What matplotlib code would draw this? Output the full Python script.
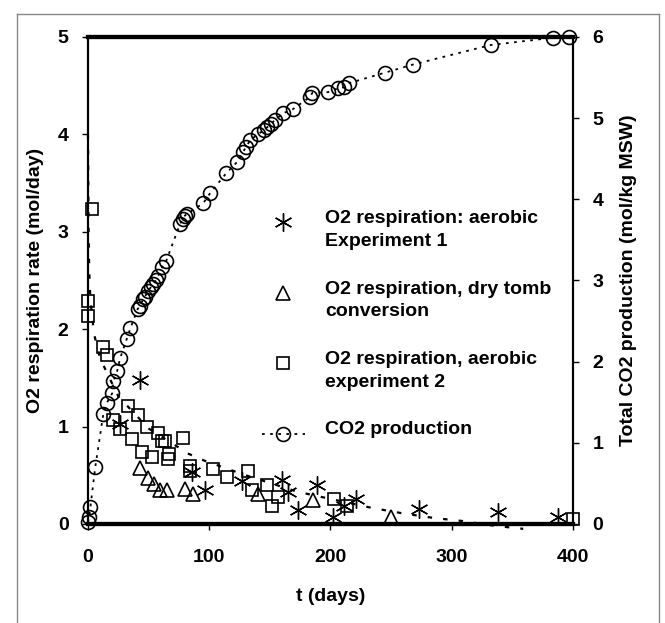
import matplotlib
matplotlib.use('Agg')
import matplotlib.pyplot as plt
from matplotlib.lines import Line2D

plt.rcParams['font.family'] = ['Liberation Sans', 'DejaVu Sans']
plt.rcParams['font.size'] = 14
plt.rcParams['font.weight'] = 'bold'

# O2 respiration, aerobic experiment 1 (asterisks, left axis)
exp1_t = [26.5, 43, 86, 96.7, 127, 160, 165, 173.5, 189, 202, 211, 221, 273, 338, 388]
exp1_y = [1.03, 1.48, 0.53, 0.35, 0.44, 0.45, 0.33, 0.14, 0.40, 0.07, 0.18, 0.26, 0.155, 0.12, 0.07]

# O2 respiration, dry tomb conversion (triangles, left axis)
tomb_t = [43, 49.6, 54.5, 59.5, 65, 80, 87, 140, 186, 250]
tomb_y = [0.57, 0.47, 0.41, 0.35, 0.35, 0.36, 0.31, 0.31, 0.25, 0.07]

# O2 respiration, aerobic experiment 2 (squares, left axis)
exp2_t = [0, 0, 3, 12.4, 15.7, 20.7, 26.4, 33, 36, 41, 44.6, 48.8, 53, 58, 61, 63.6,
          66, 66.5, 78.5, 84, 84.5, 103, 115, 132, 135, 148, 152, 157, 202.5, 214, 400]
exp2_y = [2.29, 2.13, 3.23, 1.82, 1.73, 1.07, 0.97, 1.21, 0.87, 1.12, 0.74, 1.0, 0.69, 0.93, 0.85, 0.85,
          0.67, 0.72, 0.88, 0.54, 0.59, 0.56, 0.48, 0.54, 0.35, 0.40, 0.18, 0.28, 0.26, 0.18, 0.05]

# trend line through the O2 rates (left axis)
trend_t = [0, 0.5, 1, 2, 5, 10, 25, 50, 83, 96, 130, 173, 234, 259, 286, 309, 336, 359]
trend_y = [4.0, 3.0, 2.6, 2.3, 1.95, 1.7, 1.31, 0.98, 0.72, 0.65, 0.5, 0.33, 0.165, 0.11,
           0.06, 0.03, -0.02, -0.05]

# total CO2 production (circles, right axis)
co2_t = [0, 1, 2, 6, 12.6, 15.5, 20, 21, 24, 26.5, 32, 35, 41, 43, 45.5, 47, 49.6, 52, 54, 56,
         58, 61, 64.5, 76, 78.5, 80, 81.6, 95, 101, 114, 123, 128, 130, 134, 140, 145, 148, 151,
         154.5, 161, 169, 183, 185, 198, 206.6, 211, 215, 245, 268, 332, 383.5, 397]
co2_y = [0.02, 0.09, 0.21, 0.70, 1.35, 1.49, 1.61, 1.76, 1.88, 2.04, 2.28, 2.41, 2.65, 2.68, 2.77,
         2.80, 2.87, 2.92, 2.96, 3.0, 3.06, 3.16, 3.24, 3.70, 3.76, 3.80, 3.82, 3.95, 4.08, 4.32,
         4.46, 4.58, 4.64, 4.73, 4.80, 4.85, 4.89, 4.93, 4.98, 5.06, 5.11, 5.26, 5.31, 5.32, 5.37,
         5.38, 5.43, 5.56, 5.66, 5.90, 5.99, 6.0]

x_ticks = [0, 100, 200, 300, 400]
left_ticks = [0, 1, 2, 3, 4, 5]
right_ticks = [0, 1, 2, 3, 4, 5, 6]

fig = plt.figure(figsize=(6.65, 6.23), dpi=100)
ax = fig.add_axes([0.1323, 0.159, 0.7293, 0.7817])
ax2 = ax.twinx()

open_kw = dict(linestyle='none', markerfacecolor='none', markeredgecolor='black', markeredgewidth=1.2)
star_kw = dict(marker=(6, 2, 0), markersize=13, color='black', linestyle='none', markeredgewidth=1.0)

ax.plot(trend_t, trend_y, color='black', linestyle=(0, (2, 5)), lw=1.6, clip_on=False)
ax.plot(exp1_t, exp1_y, **star_kw)
ax.plot(tomb_t, tomb_y, marker='^', markersize=10, **open_kw)
ax.plot(exp2_t, exp2_y, marker='s', markersize=9, clip_on=False, **open_kw)
ax2.plot(co2_t, co2_y, color='black', linestyle=(0, (1.5, 3)), lw=1.3, marker='o', markersize=10,
         markerfacecolor='none', markeredgecolor='black', markeredgewidth=1.2, clip_on=False)

ax.set_xlim(0, 400)
ax.set_ylim(0, 5)
ax2.set_ylim(0, 6)
ax.set_xticks(x_ticks)
ax.set_yticks(left_ticks)
ax2.set_yticks(right_ticks)

for a in (ax, ax2):
    a.spines['top'].set_linewidth(3)
    a.spines['bottom'].set_linewidth(3)
    a.spines['left'].set_linewidth(1.5)
    a.spines['right'].set_linewidth(1.5)
    a.tick_params(length=4, width=1, labelsize=14, pad=10)
ax.tick_params(axis='x', pad=14)

ax.set_xlabel('t (days)', fontsize=14, fontweight='bold', labelpad=16)
ax.set_ylabel('O2 respiration rate (mol/day)', fontsize=14, fontweight='bold', labelpad=10)
ax2.set_ylabel('Total CO2 production (mol/kg MSW)', fontsize=14, fontweight='bold', labelpad=12)

# legend drawn by hand so the key sits on the first text line
legend_rows = [
    ('O2 respiration: aerobic\nExperiment 1', star_kw),
    ('O2 respiration, dry tomb\nconversion', dict(marker='^', markersize=10, **open_kw)),
    ('O2 respiration, aerobic\nexperiment 2', dict(marker='s', markersize=9, **open_kw)),
    ('CO2 production', dict(marker='o', markersize=10, color='black', linestyle=(0, (1.5, 3)),
                            lw=1.3, markerfacecolor='none', markeredgecolor='black',
                            markeredgewidth=1.2)),
]
W, H = 665, 623
for i, (label, style) in enumerate(legend_rows):
    ypx = 222 + i * 70.5
    yf = 1 - ypx / H
    if style.get('linestyle') == 'none':
        xs = [283 / W]
        ys = [yf]
    else:
        xs = [262 / W, 283 / W, 305 / W]
        ys = [yf, yf, yf]
    ln = Line2D(xs, ys, transform=fig.transFigure, **style)
    if len(xs) == 3:
        ln.set_markevery([1])
    fig.add_artist(ln)
    fig.text(325 / W, yf + 12 / H, label, ha='left', va='top', fontsize=14,
             fontweight='bold', linespacing=1.45)

# outer frame around the figure
frame_kw = dict(color='#888888', lw=1)
fig.add_artist(Line2D([17 / W, 17 / W], [0, 1 - 14 / H], transform=fig.transFigure, **frame_kw))
fig.add_artist(Line2D([17 / W, 659 / W], [1 - 14 / H, 1 - 14 / H], transform=fig.transFigure, **frame_kw))
fig.add_artist(Line2D([659 / W, 659 / W], [0, 1 - 14 / H], transform=fig.transFigure, **frame_kw))

plt.savefig('out.png', dpi=100)
plt.close()
